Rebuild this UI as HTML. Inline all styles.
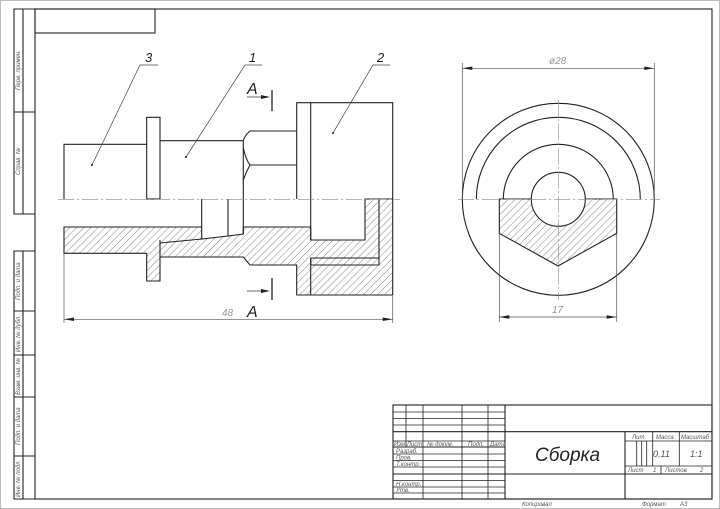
<!DOCTYPE html>
<html><head><meta charset="utf-8"><style>
html,body{margin:0;padding:0;background:#fff;}
svg{display:block}
text{font-family:"Liberation Sans","DejaVu Sans",sans-serif;font-style:italic;}
</style></head><body>
<svg width="720" height="509" viewBox="0 0 720 509" xmlns="http://www.w3.org/2000/svg">
<defs>
<pattern id="h" patternUnits="userSpaceOnUse" width="5" height="5" patternTransform="rotate(45)">
<line x1="0" y1="0" x2="0" y2="5" stroke="#555" stroke-width="0.7"/>
</pattern>
</defs>
<rect x="0.5" y="0.5" width="719" height="508" fill="#fff" stroke="#bbb"/>
<g fill="none" stroke="#222" stroke-width="1.1">
<rect x="35" y="9" width="677" height="490"/>
<rect x="35" y="9" width="120" height="24"/>
<polyline points="35,9 14,9 14,214 35,214"/>
<line x1="23" y1="9" x2="23" y2="214"/>
<line x1="14" y1="112" x2="35" y2="112"/>
<polyline points="35,251 14,251 14,499 35,499"/>
<line x1="23" y1="251" x2="23" y2="499"/>
<line x1="14" y1="311" x2="35" y2="311"/>
<line x1="14" y1="355" x2="35" y2="355"/>
<line x1="14" y1="397" x2="35" y2="397"/>
<line x1="14" y1="456" x2="35" y2="456"/>
</g>
<g font-size="6" fill="#555">
<text transform="translate(20,90) rotate(-90)">Перв. примен.</text>
<text transform="translate(20,175) rotate(-90)">Справ. №</text>
<text transform="translate(20,300) rotate(-90)">Подп. и дата</text>
<text transform="translate(20,352) rotate(-90)">Инв. № дубл.</text>
<text transform="translate(20,395) rotate(-90)">Взам. инв. №</text>
<text transform="translate(20,445) rotate(-90)">Подп. и дата</text>
<text transform="translate(20,497) rotate(-90)">Инв. № подл.</text>
</g>

<path d="M64,227 L201.7,227 L201.7,239 L228,236 L243.3,234 L243.3,227 L310.7,227 L310.7,240 L365,240 L365,199 L392.7,199 L392.7,295 L296.7,295 L296.7,265 L250,265 L243.3,257 L160,257 L160,281 L146.7,281 L146.7,253.3 L64,253.3 Z" fill="url(#h)" stroke="#222" stroke-width="1.1"/>
<g fill="none" stroke="#222" stroke-width="1.1">
<polyline points="64,199 64,144.3 146.7,144.3"/>
<rect x="146.7" y="117.3" width="13.3" height="81.7"/>
<polyline points="160,140.7 243.3,140.7"/>
<path d="M243.3,140.7 Q245,135 250,131 L296.7,131"/>
<line x1="243.3" y1="140.7" x2="243.3" y2="234"/>
<path d="M243.3,148 Q246,160 250,165 L296.7,165 M250,165 Q246,172 243.3,180"/>
<polyline points="296.7,199 296.7,102.7 392.7,102.7 392.7,199"/>
<line x1="310.7" y1="102.7" x2="310.7" y2="240"/>
<line x1="201.7" y1="199" x2="201.7" y2="227"/>
<line x1="228" y1="199" x2="228" y2="236"/>
<polyline points="160,243 201.7,239"/>
<line x1="160" y1="240" x2="160" y2="257"/>
<polyline points="379,199 379,258 310.7,258 310.7,265"/>
<polyline points="310.7,265 379,265 379,258"/>
<line x1="310.7" y1="258" x2="310.7" y2="295"/>
</g>
<line x1="58" y1="199.3" x2="400" y2="199.3" stroke="#888" stroke-width="0.6" stroke-dasharray="16,3,2,3"/>
<g stroke="#444" stroke-width="0.7" fill="none">
<polyline points="158,65 140,65 92,165"/>
<polyline points="262,65 245,65 186,157"/>
<polyline points="390,65 373,65 333,133"/>
</g>
<g fill="#222"><circle cx="92" cy="165" r="1"/><circle cx="186" cy="157" r="1"/><circle cx="333" cy="133" r="1"/></g>
<g font-size="13" fill="#222">
<text x="145" y="62">3</text><text x="249" y="62">1</text><text x="377" y="62">2</text>
</g>
<g stroke="#222" stroke-width="1.3">
<line x1="272" y1="90" x2="272" y2="111"/>
<line x1="272" y1="278" x2="272" y2="300"/>
<line x1="247" y1="97" x2="262" y2="97" stroke-width="0.7"/>
<line x1="247" y1="291" x2="262" y2="291" stroke-width="0.7"/>
</g>
<polygon points="270,97 261,95 261,99" fill="#222"/>
<polygon points="270,291 261,289 261,293" fill="#222"/>
<g font-size="16" fill="#222" style="font-style:normal"><text x="247" y="94">A</text><text x="247" y="317">A</text></g>
<g stroke="#555" stroke-width="0.7">
<line x1="64" y1="254" x2="64" y2="323"/>
<line x1="392.7" y1="296" x2="392.7" y2="323"/>
<line x1="64" y1="319.3" x2="392.7" y2="319.3"/>
</g>
<polygon points="64,319.3 74,317.5 74,321" fill="#222"/>
<polygon points="392.7,319.3 382.7,317.5 382.7,321" fill="#222"/>
<text x="222" y="316" font-size="10" fill="#999">48</text>

<polygon points="499.3,199 616.7,199 616.7,233.3 558,266 499.3,233.3" fill="url(#h)" stroke="#222" stroke-width="1.1"/>
<g fill="none" stroke="#222" stroke-width="1.1">
<circle cx="558.3" cy="199.3" r="96"/>
<path d="M476.3,199.3 A82,82 0 0 1 640.3,199.3"/>
<path d="M503.3,199.3 A55,55 0 0 1 613.3,199.3"/>
<circle cx="558.3" cy="199.3" r="27" fill="#fff"/>
</g>
<g stroke="#888" stroke-width="0.6" stroke-dasharray="16,3,2,3">
<line x1="458" y1="199.3" x2="660" y2="199.3"/>
<line x1="558.3" y1="100" x2="558.3" y2="300"/>
</g>
<g stroke="#555" stroke-width="0.7">
<line x1="462.3" y1="63" x2="462.3" y2="199"/>
<line x1="654.3" y1="63" x2="654.3" y2="199"/>
<line x1="462.3" y1="68.3" x2="654.3" y2="68.3"/>
<line x1="499.3" y1="233" x2="499.3" y2="322"/>
<line x1="616.7" y1="233" x2="616.7" y2="322"/>
<line x1="499.3" y1="317" x2="616.7" y2="317"/>
</g>
<polygon points="462.3,68.3 472.3,66.5 472.3,70" fill="#222"/>
<polygon points="654.3,68.3 644.3,66.5 644.3,70" fill="#222"/>
<polygon points="499.3,317 509.3,315.2 509.3,318.8" fill="#222"/>
<polygon points="616.7,317 606.7,315.2 606.7,318.8" fill="#222"/>
<text x="549" y="64" font-size="10" fill="#999">ø28</text>
<text x="552" y="313" font-size="10" fill="#999">17</text>

<g fill="none" stroke="#222" stroke-width="0.8">
<rect x="393" y="405" width="319" height="94" stroke-width="1.1"/>
<line x1="406" y1="405" x2="406" y2="447"/>
<line x1="423" y1="405" x2="423" y2="499"/>
<line x1="462" y1="405" x2="462" y2="499"/>
<line x1="488" y1="405" x2="488" y2="499"/>
<line x1="505" y1="405" x2="505" y2="499" stroke-width="1.1"/>
<line x1="393" y1="412" x2="505" y2="412"/>
<line x1="393" y1="418.5" x2="505" y2="418.5"/>
<line x1="393" y1="425" x2="505" y2="425"/>
<line x1="393" y1="431.7" x2="712" y2="431.7" stroke-width="1.1"/>
<line x1="393" y1="441" x2="505" y2="441"/>
<line x1="393" y1="447" x2="505" y2="447" stroke-width="1.1"/>
<line x1="393" y1="454" x2="505" y2="454"/>
<line x1="393" y1="460.5" x2="505" y2="460.5"/>
<line x1="393" y1="467" x2="505" y2="467"/>
<line x1="393" y1="474" x2="712" y2="474" stroke-width="1.1"/>
<line x1="393" y1="480.5" x2="505" y2="480.5"/>
<line x1="393" y1="487" x2="505" y2="487"/>
<line x1="393" y1="493" x2="505" y2="493"/>
<line x1="625" y1="431.7" x2="625" y2="499" stroke-width="1.1"/>
<line x1="625" y1="441" x2="712" y2="441"/>
<line x1="625" y1="466" x2="712" y2="466"/>
<line x1="636.7" y1="441" x2="636.7" y2="466"/>
<line x1="641.7" y1="441" x2="641.7" y2="466"/>
<line x1="646.7" y1="441" x2="646.7" y2="466"/>
<line x1="652.7" y1="431.7" x2="652.7" y2="466"/>
<line x1="679.3" y1="431.7" x2="679.3" y2="466"/>
<line x1="661" y1="466" x2="661" y2="474"/>
</g>
<g font-size="6" fill="#555">
<text x="394" y="446">Изм Лист</text><text x="427" y="446">№ докум.</text><text x="468" y="446">Подп.</text><text x="490" y="446">Дата</text>
<text x="396" y="453">Разраб.</text><text x="396" y="459.5">Пров.</text><text x="396" y="466">Т.контр.</text>
<text x="396" y="486">Н.контр.</text><text x="396" y="492">Утв.</text>
<text x="632" y="439">Лит.</text><text x="656" y="439">Масса</text><text x="681" y="439">Масштаб</text>
<text x="653" y="457" font-size="9">0.11</text><text x="690" y="457" font-size="9">1:1</text>
<text x="628" y="472">Лист</text><text x="653" y="472">1</text><text x="665" y="472">Листов</text><text x="700" y="472">2</text>
<text x="522" y="506">Копировал</text><text x="642" y="506">Формат</text><text x="680" y="506">А3</text>
</g>
<text x="535" y="461" font-size="19" fill="#222">Сборка</text>
</svg>
</body></html>
